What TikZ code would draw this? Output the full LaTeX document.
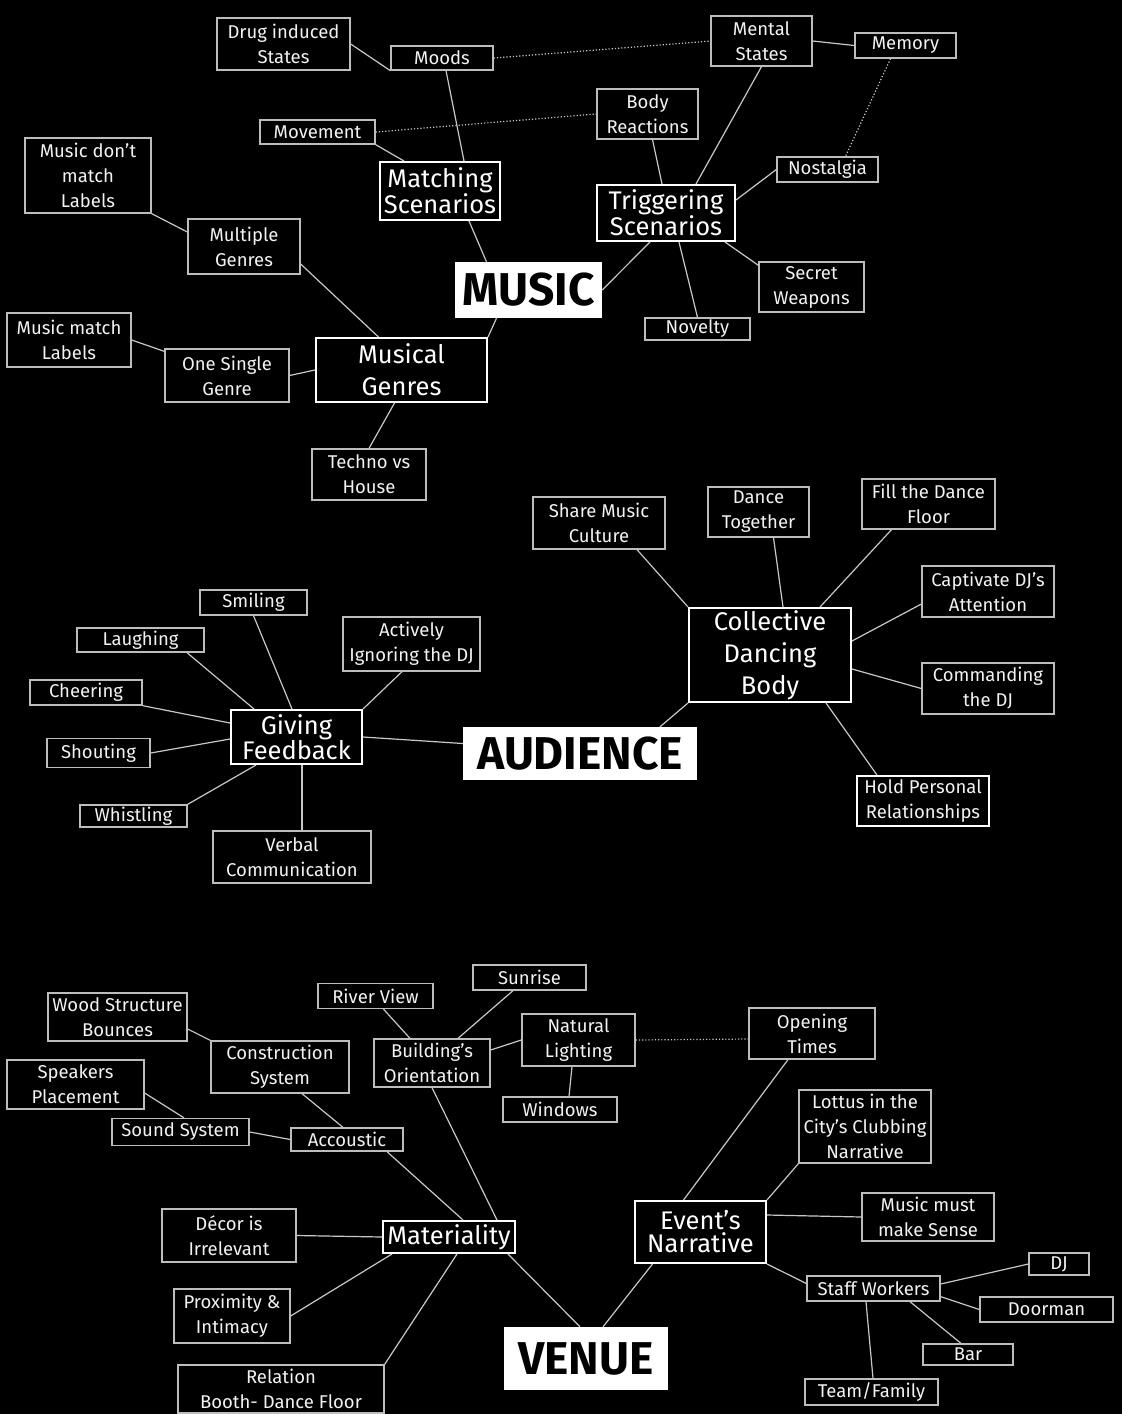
\documentclass[tikz,border=0pt]{standalone}
\usepackage{fontspec}
\setmainfont{Fira Sans}
\usepackage{xcolor}
\definecolor{map-black}{HTML}{000000}
\definecolor{map-white}{HTML}{F2F2F2}
\definecolor{map-grey}{HTML}{BDBDBD}
\definecolor{map-line}{HTML}{C8C8C8}
\usepackage{tikz}

\begin{document}
\begin{tikzpicture}[x=1pt, y=-1pt,
    leaf/.style={draw=map-grey, line width=1.3pt, text=map-white, align=center, inner sep=0pt,
      font=\fontsize{18.5}{25}\selectfont},
    topic/.style={draw=white, line width=2pt, text=white, align=center, inner sep=0pt,
      font=\fontsize{25.5}{24}\selectfont},
    theme/.style={fill=white, text=black, inner sep=0pt, font=\fontsize{46}{46}\selectfont\bfseries},
    wh/.style 2 args={minimum width=#1pt, minimum height=#2pt},
    link/.style={draw=map-line, line width=1.2pt},
    hint/.style={draw=map-line, line width=1.2pt, dotted}]

    % Background
    \fill[map-black] (0, 0) rectangle (1122, 1414);
    \useasboundingbox (0, 0) rectangle (1122, 1414);

    % Music
    \node[leaf, wh={133}{52}] (drug) at (283.5, 44) {Drug induced\\States};
    \node[leaf, wh={102}{24}] (moods) at (442, 58) {Moods};
    \node[leaf, wh={101}{50}] (mental) at (761.5, 41) {Mental\\States};
    \node[leaf, wh={101}{25}] (memory) at (905.5, 45.5) {Memory};
    \node[leaf, wh={115}{24}] (movement) at (317.5, 132) {Movement};
    \node[leaf, wh={101}{50}] (body) at (647.5, 114) {Body\\Reactions};
    \node[topic, wh={120}{58}] (matching) at (440, 191) {Matching\\Scenarios};
    \node[topic, wh={138}{56}] (triggering) at (666, 213) {Triggering\\Scenarios};
    \node[leaf, wh={101}{25}] (nostalgia) at (827.5, 169.5) {Nostalgia};
    \node[leaf, wh={126}{75}] (dontmatch) at (88, 175.5) {Music don’t\\match\\Labels};
    \node[leaf, wh={112}{55}] (multiple) at (244, 246.5) {Multiple\\Genres};
    \node[theme, wh={147}{56}] (music) at (528.5, 290) {MUSIC};
    \node[leaf, wh={105}{50}] (secret) at (811.5, 287) {Secret\\Weapons};
    \node[leaf, wh={105}{22}] (novelty) at (697.5, 329) {Novelty};
    \node[leaf, wh={124}{54}] (match) at (69, 340) {Music match\\Labels};
    \node[leaf, wh={124}{53}] (single) at (227, 375.5) {One Single\\Genre};
    \node[topic, wh={171}{64}, font=\fontsize{25.5}{32}\selectfont] (genres) at (401.5, 370) {Musical\\Genres};
    \node[leaf, wh={114}{51}] (techno) at (369, 474.5) {Techno vs\\House};

    \draw[link] (drug.east) -- (moods.south west);
    \draw[link] ([xshift=4pt]moods.south) -- ([xshift=24pt]matching.north);
    \draw[link] (movement.south east) -- ([xshift=25pt]matching.north west);
    \draw[hint] (movement.east) -- (body.west);
    \draw[hint] (moods.east) -- (mental.west);
    \draw[link] ([xshift=5pt]body.south) -- ([xshift=-4pt]triggering.north);
    \draw[link] (mental.south) -- ([xshift=30pt]triggering.north);
    \draw[link] (mental.east) -- (memory.west);
    \draw[hint] ([xshift=-15pt]memory.south) -- ([xshift=18pt]nostalgia.north);
    \draw[link] (nostalgia.west) -- ([yshift=13pt]triggering.east);
    \draw[link] ([xshift=-11pt]triggering.south east) -- ([yshift=-4pt]secret.north west);
    \draw[link] ([xshift=13pt]triggering.south) -- (novelty.north);
    \draw[link] ([xshift=-16pt]triggering.south) -- (music.east);
    \draw[link] ([xshift=29pt]matching.south) -- ([xshift=-42pt]music.north);
    \draw[link] ([xshift=-32pt]music.south) -- (genres.north east);
    \draw[link] ([xshift=-23pt]genres.north) -- ([yshift=-17.5pt]multiple.east);
    \draw[link] ([yshift=14.5pt]multiple.west) -- (dontmatch.south east);
    \draw[link] (genres.west) -- (single.east);
    \draw[link] ([yshift=-3pt]single.north west) -- (match.east);
    \draw[link] ([xshift=-7pt]genres.south) -- (techno.north);

    % Audience
    \node[leaf, wh={132}{52}] (share) at (599, 523) {Share Music\\Culture};
    \node[leaf, wh={101}{50}] (together) at (758.5, 512) {Dance\\Together};
    \node[leaf, wh={133}{50}] (fill) at (928.5, 504) {Fill the Dance\\Floor};
    \node[leaf, wh={132}{51}] (captivate) at (988, 591.5) {Captivate DJ’s\\Attention};
    \node[topic, wh={162}{94}, font=\fontsize{25.5}{32}\selectfont] (collective) at (770, 655) {Collective\\Dancing\\Body};
    \node[leaf, wh={132}{51}] (commanding) at (988, 688.5) {Commanding\\the DJ};
    \node[leaf, wh={132}{50}, draw=white, line width=2pt] (relations) at (923, 801) {Hold Personal\\Relationships};
    \node[theme, wh={234}{53}] (audience) at (580, 753.5) {AUDIENCE};
    \node[leaf, wh={107}{25}] (smiling) at (253.5, 602.5) {Smiling};
    \node[leaf, wh={127}{24}] (laughing) at (140.5, 640) {Laughing};
    \node[leaf, wh={137}{54}] (ignoring) at (411.5, 644) {Actively\\Ignoring the DJ};
    \node[leaf, wh={112}{25}] (cheering) at (86, 692.5) {Cheering};
    \node[topic, wh={131}{54}, font=\fontsize{25.5}{22}\selectfont] (feedback) at (296.5, 737) {Giving\\Feedback};
    \node[leaf, wh={103}{29}] (shouting) at (98.5, 753) {Shouting};
    \node[leaf, wh={107}{22}] (whistling) at (133.5, 816) {Whistling};
    \node[leaf, wh={158}{52}] (verbal) at (292, 857) {Verbal\\Communication};

    \draw[link] (collective.north west) -- ([xshift=38pt]share.south);
    \draw[link] ([xshift=13pt]collective.north) -- ([xshift=15pt]together.south);
    \draw[link] ([xshift=50pt]collective.north) -- ([xshift=-37pt]fill.south);
    \draw[link] ([yshift=14pt]collective.east) -- ([yshift=-12.5pt]captivate.west);
    \draw[link] ([yshift=-14pt]collective.east) -- (commanding.west);
    \draw[link] ([xshift=56pt]collective.south) -- ([xshift=-46pt]relations.north);
    \draw[link] (collective.south west) -- ([xshift=80pt]audience.north);
    \draw[link] (smiling.south) -- ([xshift=-4.5pt]feedback.north);
    \draw[link] ([xshift=46.5pt]laughing.south) -- ([xshift=24pt]feedback.north west);
    \draw[link] ([xshift=-9.5pt]ignoring.south) -- (feedback.north east);
    \draw[link] (cheering.south east) -- ([yshift=14pt]feedback.west);
    \draw[link] (shouting.east) -- ([yshift=-2pt]feedback.west);
    \draw[link] (whistling.north east) -- ([xshift=26pt]feedback.south west);
    \draw[link] ([xshift=5.5pt]feedback.south) -- ([xshift=10pt]verbal.north);
    \draw[link] (feedback.east) -- ([yshift=10pt]audience.west);

    % Venue
    \node[leaf, wh={139}{48}] (wood) at (117.5, 1017) {Wood Structure\\Bounces};
    \node[leaf, wh={115}{25}] (river) at (375.5, 996) {River View};
    \node[leaf, wh={113}{25}] (sunrise) at (529.5, 977.5) {Sunrise};
    \node[leaf, wh={138}{52}] (construction) at (280, 1067) {Construction\\System};
    \node[leaf, wh={116}{48}] (orientation) at (432, 1063) {Building’s\\Orientation};
    \node[leaf, wh={113}{52}] (lighting) at (578.5, 1040) {Natural\\Lighting};
    \node[leaf, wh={126}{51}] (opening) at (812, 1033.5) {Opening\\Times};
    \node[leaf, wh={137}{49}] (speakers) at (75.5, 1084.5) {Speakers\\Placement};
    \node[leaf, wh={114}{25}] (windows) at (560, 1109.5) {Windows};
    \node[leaf, wh={137}{27}] (sound) at (180.5, 1132) {Sound System};
    \node[leaf, wh={112}{23}] (accoustic) at (347, 1139.5) {Accoustic};
    \node[leaf, wh={132}{73}] (lottus) at (865, 1126.5) {Lottus in the\\City’s Clubbing\\Narrative};
    \node[leaf, wh={134}{53}] (decor) at (229, 1235.5) {Décor is\\Irrelevant};
    \node[topic, wh={132}{32}] (materiality) at (449, 1237) {Materiality};
    \node[topic, wh={131}{62}, font=\fontsize{25.5}{23}\selectfont] (narrative) at (700.5, 1232) {Event’s\\Narrative};
    \node[leaf, wh={132}{48}] (sense) at (928, 1217) {Music must\\make Sense};
    \node[leaf, wh={60}{22}] (dj) at (1059, 1264) {DJ};
    \node[leaf, wh={133}{25}] (staff) at (873.5, 1288.5) {Staff Workers};
    \node[leaf, wh={133}{25}] (doorman) at (1046.5, 1309.5) {Doorman};
    \node[leaf, wh={116}{54}] (proximity) at (232, 1316) {Proximity \&\\Intimacy};
    \node[leaf, wh={90}{21}] (bar) at (968, 1354.5) {Bar};
    \node[theme, wh={164}{63}] (venue) at (586, 1358.5) {VENUE};
    \node[leaf, wh={206}{48}] (relation) at (281, 1389) {Relation\\Booth- Dance Floor};
    \node[leaf, wh={133}{26}] (team) at (871.5, 1392) {Team/Family};

    \draw[link] ([yshift=-12pt]wood.east) -- (construction.north west);
    \draw[link] ([xshift=22pt]construction.south) -- ([xshift=-4pt]accoustic.north);
    \draw[link] ([yshift=-8.5pt]speakers.east) -- ([xshift=3.5pt]sound.north);
    \draw[link] (sound.east) -- (accoustic.west);
    \draw[link] ([xshift=40pt]accoustic.south) -- ([xshift=14pt]materiality.north);
    \draw[link] ([xshift=8pt]river.south) -- ([xshift=-22pt]orientation.north);
    \draw[link] ([xshift=-16.5pt]sunrise.south) -- ([xshift=26pt]orientation.north);
    \draw[link] ([yshift=13pt]orientation.east) -- (lighting.west);
    \draw[link] ([xshift=-6.5pt]lighting.south) -- ([xshift=9pt]windows.north);
    \draw[hint] (lighting.east) -- ([yshift=-5.5pt]opening.west);
    \draw[link] (orientation.south) -- ([xshift=48pt]materiality.north);
    \draw[link] (decor.east) -- (materiality.west);
    \draw[link] (proximity.east) -- ([xshift=10pt]materiality.south west);
    \draw[link] (relation.north east) -- ([xshift=8pt]materiality.south);
    \draw[link] ([xshift=-8pt]materiality.south east) -- ([xshift=-6pt]venue.north);
    \draw[link] ([xshift=17pt]venue.north) -- ([xshift=-48pt]narrative.south);
    \draw[link] ([xshift=-17pt]narrative.north) -- ([xshift=-24pt]opening.south);
    \draw[link] (narrative.north east) -- (lottus.south west);
    \draw[link] ([yshift=17pt]narrative.east) -- (sense.west);
    \draw[link] (narrative.south east) -- ([yshift=5pt]staff.west);
    \draw[link] ([yshift=4.5pt]staff.east) -- (dj.west);
    \draw[link] ([yshift=5pt]staff.south east) -- (doorman.west);
    \draw[link] ([xshift=36.5pt]staff.south) -- ([xshift=-7pt]bar.north);
    \draw[link] ([xshift=-7.5pt]staff.south) -- ([xshift=1.5pt]team.north);

\end{tikzpicture}
\end{document}
